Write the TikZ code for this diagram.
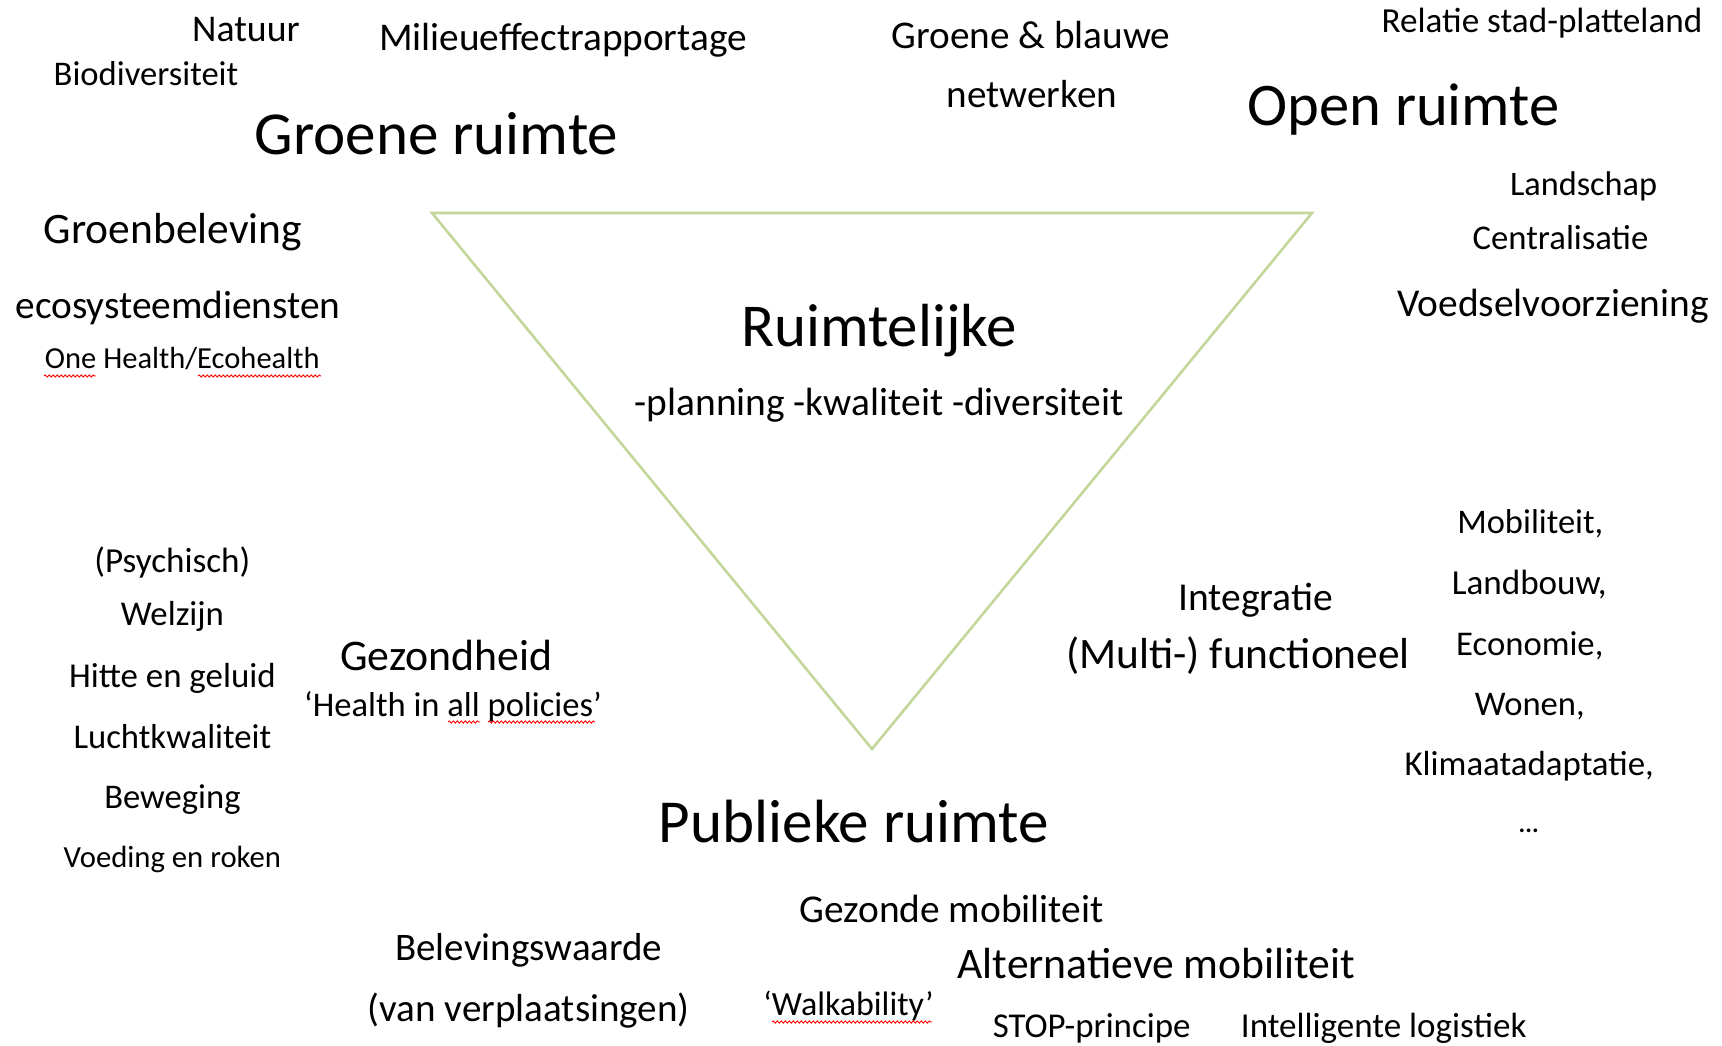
\documentclass[tikz,border=0pt]{standalone}
\usepackage{fontspec}
\setmainfont{Carlito}
\usetikzlibrary{decorations.pathmorphing}
\definecolor{trigreen}{HTML}{C4D79B}
\newcommand\fitw[2]{\resizebox{#1pt}{!}{\fontsize{20}{24}\selectfont #2}}
\tikzset{
  lbl/.style={inner sep=0pt, outer sep=0pt, anchor=center, text=black},
  squig/.style={draw=red, line width=0.9pt, decorate, decoration={snake, segment length=4pt, amplitude=1.1pt}},
  tri/.style={draw=trigreen, line width=2.6pt, line join=miter}
}
\begin{document}
\begin{tikzpicture}[x=1pt,y=-1pt]
\useasboundingbox[fill=white] (0,0) rectangle (1722,1046);
% triangle
\coordinate (tl) at (432,213);
\coordinate (tr) at (1312,213);
\coordinate (bt) at (872,749);
\draw[tri] (tl) -- (tr) -- (bt) -- cycle;
% top area
\node[lbl] (natuur) at (246,30) {\fitw{107.6}{Natuur}};
\node[lbl] (mer) at (563,40) {\fitw{367.9}{Milieueffectrapportage}};
\node[lbl] (gb) at (1031,35) {\fitw{278.9}{Groene \& blauwe}};
\node[lbl] (netw) at (1032,94) {\fitw{170.2}{netwerken}};
\node[lbl] (rel) at (1542,23) {\fitw{320.7}{Relatie stad-platteland}};
\node[lbl] (bio) at (146,74) {\fitw{184.5}{Biodiversiteit}};
\node[lbl] (groene) at (436.5,134) {\fitw{363.5}{Groene ruimte}};
\node[lbl] (open) at (1403.5,109.5) {\fitw{311.9}{Open ruimte}};
\node[lbl] (land) at (1583.6,186.5) {\fitw{147.2}{Landschap}};
\node[lbl] (centr) at (1560.5,238) {\fitw{175.7}{Centralisatie}};
\node[lbl] (voed) at (1553,306) {\fitw{311.9}{Voedselvoorziening}};
\node[lbl] (groenb) at (173,232.5) {\fitw{258.1}{Groenbeleving}};
\node[lbl] (eco) at (178,308.5) {\fitw{325.1}{ecosysteemdiensten}};
\node[lbl] (one) at (182.3,359) {\fitw{274.6}{One Health/Ecohealth}};
% centre
\node[lbl] (ruim) at (879,330.5) {\fitw{275.6}{Ruimtelijke}};
\node[lbl] (plan) at (879,405) {\fitw{488.7}{-planning -kwaliteit -diversiteit}};
% left column
\node[lbl] (psy) at (172.4,562) {\fitw{155.9}{(Psychisch)}};
\node[lbl] (welz) at (172.4,616) {\fitw{103.2}{Welzijn}};
\node[lbl] (hitte) at (172.4,678) {\fitw{206.5}{Hitte en geluid}};
\node[lbl] (lucht) at (172.4,737) {\fitw{197.7}{Luchtkwaliteit}};
\node[lbl] (bew) at (172.4,800) {\fitw{136.2}{Beweging}};
\node[lbl] (voedr) at (172.4,859) {\fitw{217.4}{Voeding en roken}};
\node[lbl] (gez) at (446.4,655.6) {\fitw{212}{Gezondheid}};
\node[lbl] (hiap) at (453,707) {\fitw{297.6}{‘Health in all policies’}};
% right column
\node[lbl] (integ) at (1255.8,600.5) {\fitw{154.8}{Integratie}};
\node[lbl] (multi) at (1238.2,656) {\fitw{343.7}{(Multi-) functioneel}};
\node[lbl] (mob) at (1530.3,523.7) {\fitw{146}{Mobiliteit,}};
\node[lbl] (landb) at (1529.2,584.1) {\fitw{154.8}{Landbouw,}};
\node[lbl] (econ) at (1529.8,645.6) {\fitw{147.2}{Economie,}};
\node[lbl] (wonen) at (1529.8,707) {\fitw{109.8}{Wonen,}};
\node[lbl] (klim) at (1529.2,766.4) {\fitw{249.3}{Klimaatadaptatie,}};
\node[lbl] (dots) at (1528.7,831.3) {\fitw{20}{\textbf{...}}};
% bottom
\node[lbl] (pub) at (853.9,821.4) {\fitw{389.9}{Publieke ruimte}};
\node[lbl] (gezm) at (951.6,909.3) {\fitw{304.2}{Gezonde mobiliteit}};
\node[lbl] (belev) at (528.8,950.5) {\fitw{266.9}{Belevingswaarde}};
\node[lbl] (vanv) at (528.8,1010.5) {\fitw{321.8}{(van verplaatsingen)}};
\node[lbl] (walk) at (848.4,1005.5) {\fitw{170.2}{‘Walkability’}};
\node[lbl] (altm) at (1156.4,963.1) {\fitw{397.5}{Alternatieve mobiliteit}};
\node[lbl] (stop) at (1091.6,1028.5) {\fitw{197.7}{STOP-principe}};
\node[lbl] (intl) at (1383.7,1028.5) {\fitw{285.5}{Intelligente logistiek}};
% spell-check squiggles
\draw[squig] (44,376) -- (96,376);
\draw[squig] (198,376) -- (321,376);
\draw[squig] (448,722) -- (480,722);
\draw[squig] (488,722) -- (595,722);
\draw[squig] (772,1022) -- (932,1022);
\end{tikzpicture}
\end{document}
